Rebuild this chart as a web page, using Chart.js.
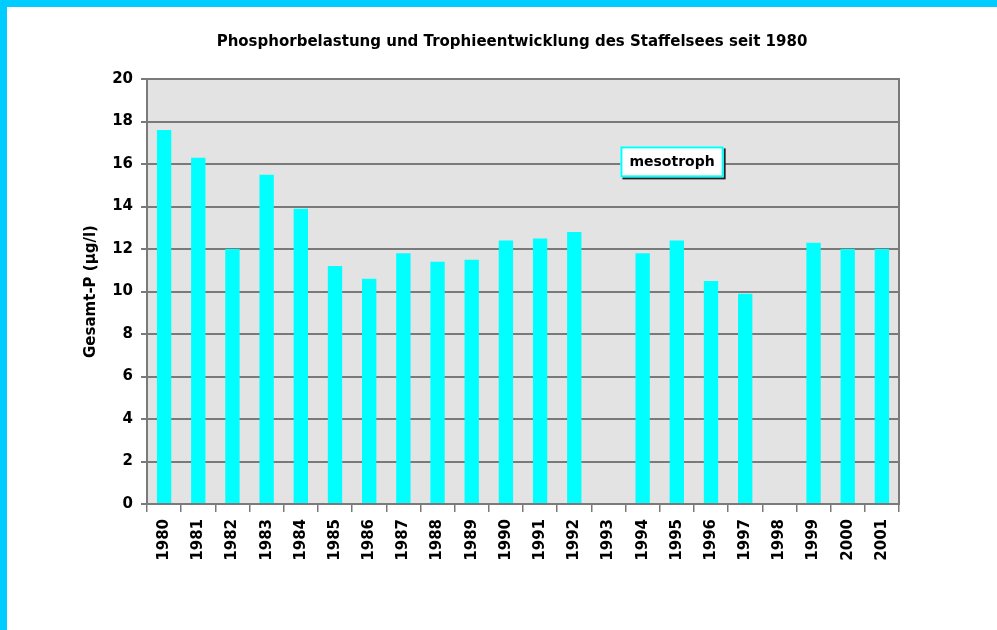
<!DOCTYPE html>
<html>
<head>
<meta charset="utf-8">
<script src="https://cdn.jsdelivr.net/npm/chart.js@4/dist/chart.umd.min.js"></script>
<style>
  html, body { margin: 0; padding: 0; background: #fff; }
  body { width: 997px; height: 630px; overflow: hidden; position: relative; }
  #frame { position: absolute; left: 0; top: 0; width: 997px; height: 7px; background: #00ccff; }
  #frameLeft { position: absolute; left: 0; top: 0; width: 7px; height: 630px; background: #00ccff; }
  #wrap { position: absolute; left: 27px; top: 7px; width: 970px; height: 623px; }
</style>
</head>
<body>
<div id="frame"></div>
<div id="frameLeft"></div>
<div id="wrap"><canvas id="chart"></canvas></div>
<script>
'use strict';

// data

let years = ['1980', '1981', '1982', '1983', '1984', '1985', '1986', '1987', '1988', '1989', '1990',
  '1991', '1992', '1993', '1994', '1995', '1996', '1997', '1998', '1999', '2000', '2001'];

let phosphor = [17.6, 16.3, 12.0, 15.5, 13.9, 11.2, 10.6, 11.8, 11.4, 11.5, 12.4,
  12.5, 12.8, null, 11.8, 12.4, 10.5, 9.9, null, 12.3, 12.0, 12.0];

let yTicks = [0, 2, 4, 6, 8, 10, 12, 14, 16, 18, 20];

let chartTitle = 'Phosphorbelastung und Trophieentwicklung des Staffelsees seit 1980';
let yTitle = 'Gesamt-P (µg/l)';

// label inside the plot
let noteText = 'mesotroph';
let noteAt = 14.86;   // category index
let noteValue = 16.1;

let fontName = '"DejaVu Sans", Verdana, sans-serif';
let gridGray = '#7a7a7a';

let canvasElem = document.getElementById('chart');

// plot background
let plotBack = {
  id: 'plotBack',
  beforeDraw(chart) {
    let a = chart.chartArea;
    let ctx = chart.ctx;
    ctx.save();
    ctx.fillStyle = '#e3e3e3';
    ctx.fillRect(a.left, a.top, a.right - a.left, a.bottom - a.top);
    ctx.restore();
  }
};

// the mesotroph box
let noteBox = {
  id: 'noteBox',
  afterDatasetsDraw(chart) {
    let ctx = chart.ctx;
    let x = chart.scales.x.getPixelForValue(noteAt);
    let y = chart.scales.y.getPixelForValue(noteValue);
    ctx.save();
    ctx.font = 'bold 14px ' + fontName;
    let w = ctx.measureText(noteText).width + 18;
    let h = 31;
    ctx.fillStyle = '#222';
    ctx.fillRect(x - w / 2 + 2, y - h / 2 + 2, w, h);
    ctx.fillStyle = '#fff';
    ctx.fillRect(x - w / 2, y - h / 2, w, h);
    ctx.strokeStyle = '#00ffff';
    ctx.lineWidth = 2;
    ctx.strokeRect(x - w / 2 + 1, y - h / 2 + 1, w - 2, h - 2);
    ctx.fillStyle = '#000';
    ctx.textAlign = 'center';
    ctx.textBaseline = 'middle';
    ctx.fillText(noteText, x, y);
    ctx.restore();
  }
};

let chartObj = {
  type: 'bar',
  data: {
    labels: years,
    datasets: [{
      label: 'Gesamt-P',
      data: phosphor,
      backgroundColor: '#00ffff',
      borderWidth: 0,
      categoryPercentage: 1,
      barPercentage: 0.42,
      yAxisID: 'y'
    }]
  },
  options: {
    responsive: true,
    maintainAspectRatio: false,
    animation: false,
    layout: {
      padding: { left: 55, right: 55, top: 0, bottom: 0 }
    },
    plugins: {
      legend: { display: false },
      tooltip: { enabled: false },
      title: {
        display: true,
        text: chartTitle,
        color: '#000',
        font: { family: fontName, size: 15, weight: 'bold' },
        padding: { top: 26, bottom: 28 }
      }
    },
    scales: {
      x: {
        offset: true,
        afterFit: function(scale) { scale.height = 126; },
        grid: {
          offset: true,
          drawOnChartArea: false,
          drawTicks: true,
          tickLength: 8,
          color: gridGray,
          lineWidth: 1.5
        },
        border: { display: true, color: gridGray, width: 2 },
        ticks: {
          color: '#000',
          autoSkip: false,
          minRotation: 90,
          maxRotation: 90,
          padding: 7,
          font: { family: fontName, size: 15, weight: 'bold' }
        }
      },
      y: {
        position: 'left',
        min: 0,
        max: 20,
        afterFit: function(scale) { scale.width = 65; },
        afterBuildTicks: function(scale) {
          scale.ticks = yTicks.map(function(v) { return { value: v }; });
        },
        grid: {
          color: gridGray,
          lineWidth: 2,
          tickLength: 6
        },
        border: { display: true, color: gridGray, width: 2 },
        ticks: {
          color: '#000',
          padding: 8,
          font: { family: fontName, size: 15, weight: 'bold' }
        },
        title: {
          display: true,
          text: yTitle,
          color: '#000',
          padding: { top: 0, bottom: 0 },
          font: { family: fontName, size: 15, weight: 'bold' }
        }
      },
      y2: {
        position: 'right',
        min: 0,
        max: 20,
        afterFit: function(scale) { scale.width = 43; },
        grid: { drawOnChartArea: false, drawTicks: false },
        border: { display: true, color: gridGray, width: 2 },
        ticks: { display: false }
      }
    }
  },
  plugins: [plotBack, noteBox]
};

new Chart(canvasElem, chartObj);
</script>
</body>
</html>
